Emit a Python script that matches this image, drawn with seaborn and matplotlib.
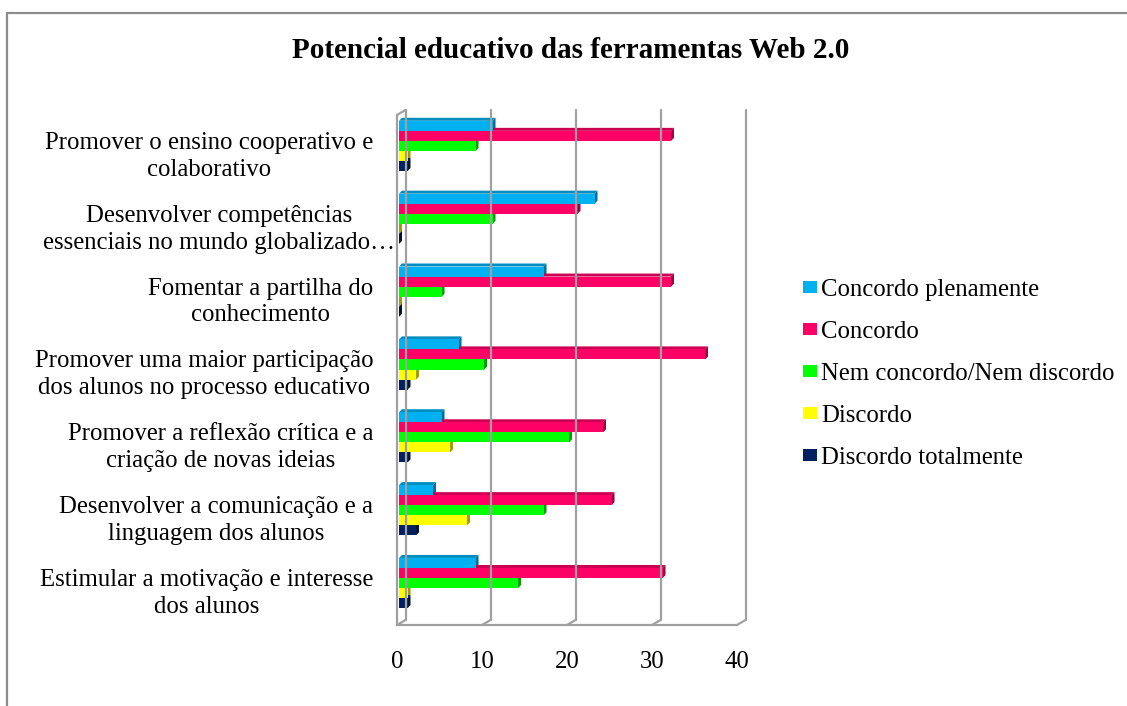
import matplotlib
matplotlib.use("Agg")
import matplotlib.pyplot as plt
from matplotlib.lines import Line2D
from matplotlib.patches import Patch, Polygon
from matplotlib.transforms import ScaledTranslation
import matplotlib.colors as mcolors
import numpy as np
import pandas as pd
import seaborn as sns

# ---------------- data ----------------
title = "Potencial educativo das ferramentas Web 2.0"
categories = [
    "Promover o ensino cooperativo e\ncolaborativo",
    "Desenvolver competências\nessenciais no mundo globalizado…",
    "Fomentar a partilha do\nconhecimento",
    "Promover uma maior participação\ndos alunos no processo educativo",
    "Promover a reflexão crítica e a\ncriação de novas ideias",
    "Desenvolver a comunicação e a\nlinguagem dos alunos",
    "Estimular a motivação e interesse\ndos alunos",
]
series = ["Concordo plenamente", "Concordo", "Nem concordo/Nem discordo",
          "Discordo", "Discordo totalmente"]
concordo_plenamente = [11, 23, 17, 7, 5, 4, 9]
concordo = [32, 21, 32, 36, 24, 25, 31]
nem_nem = [9, 11, 5, 10, 20, 17, 14]
discordo = [1, 0, 0, 2, 6, 8, 1]
discordo_totalmente = [1, 0, 0, 1, 1, 2, 1]
x_ticks = [0, 10, 20, 30, 40]

colors = ["#00B0F0", "#FF0066", "#00FF00", "#FFFF00", "#002060"]

values = [concordo_plenamente, concordo, nem_nem, discordo, discordo_totalmente]
rows = []
for s, vals in zip(series, values):
    for c, v in zip(categories, vals):
        rows.append({"cat": c, "series": s, "val": v})
df = pd.DataFrame(rows)


def darker(c, f):
    r, g, b = mcolors.to_rgb(c)
    return (r * f, g * f, b * f)


# ---------------- figure ----------------
sns.set_style("white")
plt.rcParams["font.family"] = ["Liberation Serif", "DejaVu Serif"]
plt.rcParams["text.color"] = "black"
plt.rcParams["xtick.labelcolor"] = "black"
plt.rcParams["ytick.labelcolor"] = "black"

W, H = 1127, 706
DPI = 100
FS = 17.8
fig = plt.figure(figsize=(W / DPI, H / DPI), dpi=DPI)
fig.patch.set_facecolor("white")

ax_l, ax_r, ax_t, ax_b = 397, 737, 115, 625
ax = fig.add_axes([ax_l / W, 1 - ax_b / H, (ax_r - ax_l) / W, (ax_b - ax_t) / H])
ax.set_facecolor("none")

sns.barplot(data=df, y="cat", x="val", hue="series", order=categories,
            hue_order=series, palette=colors, orient="h", width=0.69,
            saturation=1, dodge=True, legend=False, ax=ax, errorbar=None,
            zorder=5)

n = len(categories)
ax.set_xlim(0, 40)
ax.set_ylim(n - 0.5, -0.5)

# 3-D look: shift front faces, add side / top faces derived from each bar
shift = ScaledTranslation(2 / DPI, 5.5 / DPI, fig.dpi_scale_trans)
sx = ax.transData.transform((1, 0))[0] - ax.transData.transform((0, 0))[0]
sy = abs(ax.transData.transform((0, 1))[1] - ax.transData.transform((0, 0))[1])
ddx, ddy = 3.0 / sx, 3.0 / sy
bars = list(ax.patches)
for i, p in enumerate(bars):
    si = i // n
    col = colors[si] if si < len(colors) else "#888888"
    p.set_linewidth(0)
    p.set_transform(ax.transData + shift)
    x0, w = p.get_x(), p.get_width()
    y0, h = p.get_y(), p.get_height()   # y0 is the visual top (inverted axis)
    x1, yb = x0 + w, y0 + h
    side = Polygon([(x1, yb), (x1 + ddx, yb - ddy), (x1 + ddx, y0 - ddy), (x1, y0)],
                   closed=True, facecolor=darker(col, 0.62), edgecolor="none",
                   transform=ax.transData + shift, zorder=3)
    top = Polygon([(x0, y0), (x0 + ddx, y0 - ddy), (x1 + ddx, y0 - ddy), (x1, y0)],
                  closed=True, facecolor=darker(col, 0.8), edgecolor="none",
                  transform=ax.transData + shift, zorder=3)
    ax.add_patch(side)
    ax.add_patch(top)

ax.set_xlabel("")
ax.set_ylabel("")
ax.set_xticks(x_ticks)
ax.set_xticklabels([str(t) for t in x_ticks])

grid_c = "#A0A0A0"
for sp in ["top", "right"]:
    ax.spines[sp].set_visible(False)
for sp in ["left", "bottom"]:
    ax.spines[sp].set_color(grid_c)
    ax.spines[sp].set_linewidth(1.6)
    ax.spines[sp].set_zorder(6)

ax.tick_params(axis="x", direction="out", length=6, width=1.6, color=grid_c,
               labelsize=FS, pad=13)
ax.set_yticks(np.arange(n))
ax.set_yticks(np.arange(n + 1) - 0.5, minor=True)
ax.tick_params(axis="y", which="major", length=0, labelsize=FS, pad=17)
ax.tick_params(axis="y", which="minor", direction="out", length=5, width=1.6,
               color=grid_c)
for lab in ax.get_yticklabels():
    lab.set_multialignment("center")
    lab.set_linespacing(1.28)
    lab.set_color("black")
for lab in ax.get_xticklabels():
    lab.set_color("black")
# the truncated label overflows to the right in the original
lbl = ax.get_yticklabels()[1]
lbl.set_transform(lbl.get_transform() + ScaledTranslation(22 / DPI, 0, fig.dpi_scale_trans))

# back-wall gridlines (3-D depth offset) and connecting diagonals
fig.canvas.draw()
dx, dy = 8.5, 5
for t in x_ticks:
    x0, yb = ax.transData.transform((t, n - 0.5))
    _, yt = ax.transData.transform((t, -0.5))
    fig.add_artist(Line2D([(x0 + dx) / W, (x0 + dx) / W], [(yb + dy) / H, (yt + dy) / H],
                          color=grid_c, lw=1.6, zorder=1))
    fig.add_artist(Line2D([x0 / W, (x0 + dx) / W], [yb / H, (yb + dy) / H],
                          color=grid_c, lw=1.6, zorder=1))
x0, yt = ax.transData.transform((0, -0.5))
fig.add_artist(Line2D([x0 / W, (x0 + dx) / W], [yt / H, (yt + dy) / H],
                      color=grid_c, lw=1.6, zorder=1))

# title
fig.text(571 / W, 1 - 50 / H, title, ha="center", va="center",
         fontsize=21, fontweight="bold", color="black")

# legend
fs_px = FS * DPI / 72
handles = [Patch(facecolor=c, edgecolor="none") for c in colors]
leg = fig.legend(handles, series, loc="center left",
                 bbox_to_anchor=(803 / W, 1 - 374 / H), frameon=False,
                 fontsize=FS, handlelength=14 / fs_px, handleheight=10 / fs_px,
                 handletextpad=0.17, labelspacing=0.81, borderpad=0,
                 borderaxespad=0)
for t in leg.get_texts():
    t.set_color("black")

# outer chart border (cropped: only left and top visible)
bc = "#8C8C8C"
fig.add_artist(Line2D([7 / W, 7 / W], [0, 1 - 13 / H], color=bc, lw=1.6))
fig.add_artist(Line2D([7 / W, 1], [1 - 13 / H, 1 - 13 / H], color=bc, lw=1.6))

fig.savefig("out.png", dpi=DPI)
